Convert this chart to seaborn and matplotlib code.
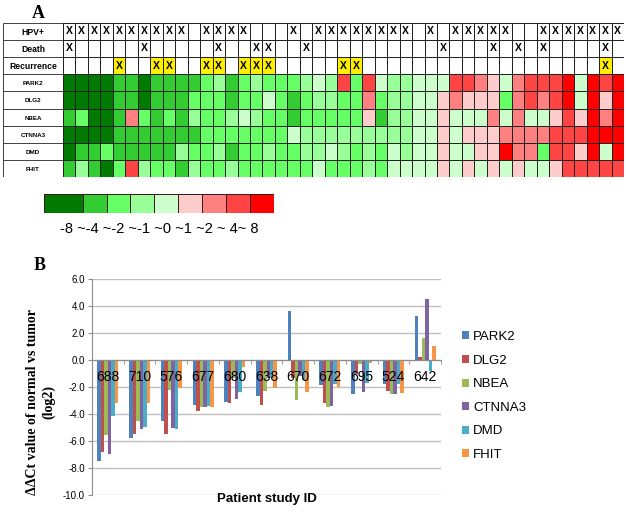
import numpy as np
import pandas as pd
import matplotlib
matplotlib.use("Agg")
import matplotlib.pyplot as plt
from matplotlib.colors import ListedColormap
import seaborn as sns

# ─────────────────────────────────────────
# DATA — panel A (45 patients)
# ─────────────────────────────────────────
n_cols = 45
hpv_cols = [0, 1, 2, 3, 4, 5, 6, 7, 8, 9, 11, 12, 13, 14, 18, 20, 21, 22, 23, 24, 25,
            26, 27, 29, 31, 32, 33, 34, 35, 38, 39, 40, 41, 42, 43, 44]
death_cols = [0, 6, 12, 15, 16, 19, 30, 34, 36, 38, 43]
recurrence_cols = [4, 7, 8, 11, 12, 14, 15, 16, 22, 23, 43]

# colour level per cell: 1 = -8~-4 (dark green) ... 9 = 4~8 (red)
park2_lv = [1, 1, 1, 1, 2, 2, 1, 2, 2, 2, 2, 3,
            4, 2, 3, 4, 3, 3, 3, 4, 5, 4, 8, 3,
            8, 5, 4, 4, 5, 5, 5, 8, 8, 7, 6, 5,
            7, 8, 8, 8, 9, 5, 9, 8, 9]
dlg2_lv = [1, 1, 1, 1, 2, 2, 1, 2, 2, 2, 3, 3,
           3, 2, 3, 3, 5, 3, 2, 3, 4, 4, 3, 3,
           7, 3, 4, 4, 5, 5, 6, 7, 6, 6, 6, 3,
           7, 8, 7, 8, 9, 5, 9, 6, 9]
nbea_lv = [2, 3, 1, 1, 2, 7, 3, 2, 3, 2, 4, 3,
           3, 4, 5, 4, 3, 3, 2, 3, 3, 3, 3, 3,
           6, 2, 4, 4, 5, 5, 6, 5, 5, 5, 7, 5,
           7, 5, 5, 6, 8, 6, 9, 7, 9]
ctnna3_lv = [1, 1, 1, 1, 2, 2, 2, 2, 2, 2, 2, 3,
             3, 3, 3, 3, 3, 3, 5, 4, 4, 4, 4, 4,
             4, 4, 4, 4, 5, 5, 6, 5, 6, 6, 6, 7,
             7, 7, 7, 8, 8, 8, 9, 9, 9]
dmd_lv = [1, 2, 2, 3, 2, 2, 2, 2, 2, 4, 3, 3,
          4, 2, 3, 3, 4, 3, 3, 4, 4, 5, 4, 3,
          4, 3, 5, 4, 5, 5, 6, 5, 5, 6, 6, 9,
          7, 7, 3, 8, 8, 6, 9, 5, 9]
fhit_lv = [2, 4, 2, 1, 3, 8, 4, 3, 3, 2, 4, 3,
           3, 4, 3, 3, 3, 3, 3, 3, 5, 3, 3, 3,
           4, 3, 5, 5, 5, 5, 6, 5, 6, 5, 6, 5,
           6, 5, 5, 6, 8, 8, 8, 8, 8]

row_labels = ["HPV+", "Death", "Recurrence", "PARK2", "DLG2", "NBEA", "CTNNA3", "DMD", "FHIT"]
legend_levels = [1, 2, 3, 4, 5, 6, 7, 8, 9]
legend_text = "-8 ~-4 ~-2 ~-1 ~0 ~1 ~2 ~ 4~ 8"

# ─────────────────────────────────────────
# DATA — panel B
# ─────────────────────────────────────────
patients = ["688", "710", "576", "677", "680", "638", "670", "672", "695", "524", "642"]
genes = ["PARK2", "DLG2", "NBEA", "CTNNA3", "DMD", "FHIT"]
park2 = [-7.5, -5.77, -4.55, -3.37, -3.1, -2.7, 3.6, -1.85, -2.55, -1.75, 3.25]
dlg2 = [-6.85, -5.5, -5.5, -3.76, -3.15, -3.32, -1.3, -3.22, -1.0, -2.28, 0.25]
nbea = [-5.55, -4.55, -2.21, -3.5, -1.3, -2.28, -2.95, -3.46, -0.3, -2.53, 1.6]
ctnna3 = [-6.95, -5.13, -5.04, -3.46, -2.9, -1.3, -1.2, -3.39, -2.4, -2.53, 4.52]
dmd = [-4.18, -4.94, -5.11, -3.4, -2.4, -1.3, -1.5, -1.8, -1.67, -1.8, -0.8]
fhit = [-3.17, -3.17, -2.09, -3.51, -0.5, -2.09, -2.4, -1.97, -0.2, -2.48, 1.03]
gene_colors = ["#4F81BD", "#C0504D", "#9BBB59", "#8064A2", "#4BACC6", "#F79646"]

plt.rcParams["font.family"] = ["Liberation Sans", "DejaVu Sans"]

# 0 = white, 1..9 = expression levels, 10 = yellow (recurrence)
level_colors = ["#FFFFFF", "#007A00", "#33CC33", "#66FF66", "#99FF99", "#CCFFCC",
                "#FFCCCC", "#FF8080", "#FF4444", "#FF0000", "#FFEE00"]
cmap = ListedColormap(level_colors)

# build the 9 x 45 grid
grid = np.zeros((9, n_cols))
annot = np.full((9, n_cols), "", dtype=object)
for c in hpv_cols:
    annot[0, c] = "X"
for c in death_cols:
    annot[1, c] = "X"
for c in recurrence_cols:
    annot[2, c] = "X"
    grid[2, c] = 10
for i, lv in enumerate([park2_lv, dlg2_lv, nbea_lv, ctnna3_lv, dmd_lv, fhit_lv]):
    grid[3 + i] = lv

fig = plt.figure(figsize=(6.26, 5.15), dpi=100)
W, H = 626, 515

# ─────────────────────────────────────────
# PANEL A
# ─────────────────────────────────────────
axA = fig.add_axes([3 / W, 1 - 177.3 / H, 621 / W, 154.6 / H])
sns.heatmap(grid, ax=axA, cmap=cmap, vmin=-0.5, vmax=10.5, cbar=False,
            annot=annot, fmt="", linewidths=0.6, linecolor="#222222",
            annot_kws={"color": "black", "fontsize": 7.5, "fontweight": "bold"},
            xticklabels=False, yticklabels=False)
lab_w = 60 / (561 / n_cols)
axA.set_xlim(-lab_w, n_cols)
axA.set_ylim(9, 0)
axA.hlines(np.arange(10), -lab_w, 0, color="#222222", lw=0.6)
axA.vlines(-lab_w, 0, 9, color="#222222", lw=0.6)
for i, lab in enumerate(row_labels):
    axA.text(-lab_w / 2, i + 0.55, lab, ha="center", va="center",
             fontsize=6.2 if i < 3 else 4.5, fontweight="bold")
axA.set_xlabel("")
axA.set_ylabel("")
fig.text(38 / W, 1 - 13 / H, "A", fontsize=13, fontweight="bold",
         family=["Liberation Serif"], ha="center", va="center")

# colour key
axK = fig.add_axes([44.3 / W, 1 - 212.7 / H, 229.7 / W, 18.4 / H])
key_w = [1.6, 1, 1, 1, 1, 1, 1, 1, 1]
edges = np.concatenate([[0], np.cumsum(key_w)])
axK.pcolormesh(edges, [0, 1], np.array([legend_levels]), cmap=cmap,
               vmin=-0.5, vmax=10.5, edgecolor="#3a1a1a", linewidth=0.7)
axK.set_xlim(0, edges[-1])
axK.set_ylim(0, 1)
axK.axis("off")
fig.text(159.5 / W, 1 - 229 / H, legend_text, fontsize=10.6, ha="center", va="center")

# ─────────────────────────────────────────
# PANEL B
# ─────────────────────────────────────────
df = pd.DataFrame({"patient": patients, "PARK2": park2, "DLG2": dlg2, "NBEA": nbea,
                   "CTNNA3": ctnna3, "DMD": dmd, "FHIT": fhit})
long_df = df.melt(id_vars="patient", var_name="gene", value_name="value")

axB = fig.add_axes([92 / W, 1 - 495 / H, 349 / W, 216 / H])
yticks = np.arange(-10, 6.1, 2)
for yv in yticks:
    axB.axhline(yv, color="#BFBFBF", lw=1, zorder=0)
sns.barplot(data=long_df, x="patient", y="value", hue="gene", order=patients,
            hue_order=genes, palette=gene_colors, saturation=1, width=0.66,
            linewidth=0, ax=axB, zorder=1)
axB.set_ylim(-10, 6)
axB.set_xlim(-0.5, len(patients) - 0.5)
axB.set_yticks(yticks)
axB.set_yticklabels([f"{v:.1f}" for v in yticks])
axB.tick_params(axis="y", length=3, color="#8C8C8C", labelsize=7, pad=2)
axB.tick_params(axis="x", which="major", length=0, pad=7.5, labelsize=10)
axB.set_xticks(np.arange(-0.5, len(patients), 1), minor=True)
axB.tick_params(axis="x", which="minor", length=3, color="#8C8C8C")
for s in ["top", "right"]:
    axB.spines[s].set_visible(False)
axB.spines["left"].set_color("#8C8C8C")
axB.spines["bottom"].set_color("#8C8C8C")
axB.spines["bottom"].set_position(("data", 0))

axB.set_xlabel("Patient study ID", fontsize=9.5, fontweight="bold")
axB.xaxis.set_label_coords(0.5, -0.018)
axB.xaxis.label.set_va("center")
axB.set_ylabel("ΔΔCt value of normal vs tumor\n(log2)", fontsize=10, fontweight="bold",
               family=["Liberation Serif", "DejaVu Serif"], linespacing=1.2)
axB.yaxis.set_label_coords(-0.106, 0.43)

handles, labels = axB.get_legend_handles_labels()
axB.legend_.remove()
fig.legend(handles, labels, loc="center left", bbox_to_anchor=(0.719, 0.231),
           frameon=False, fontsize=9.5, handlelength=0.55, handleheight=0.55,
           handletextpad=0.3, labelspacing=0.88)

fig.text(40 / W, 1 - 265 / H, "B", fontsize=13, fontweight="bold",
         family=["Liberation Serif"], ha="center", va="center")

plt.savefig("out.png", dpi=100)
